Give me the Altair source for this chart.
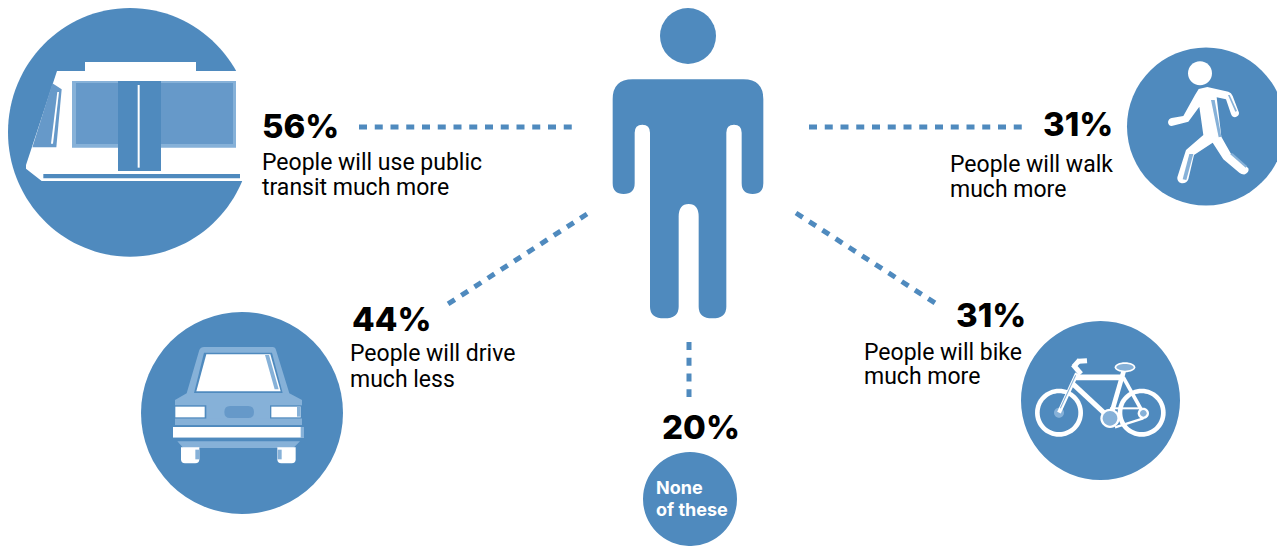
import re, math
import altair as alt
import pandas as pd

BLUE = "#4f8abe"; MID = "#6699c9"; LIGHT = "#86b1d8"; WHITE = "#ffffff"; INK = "#000000"

# ---------- values ----------
shares = ["56%", "31%", "44%", "31%", "20%"]
share_x = [262, 1043, 352, 956, 662]
share_y = [138, 136, 331, 327, 439]
captions = ["People will use public", "transit much more", "People will walk", "much more",
            "People will drive", "much less", "People will bike", "much more"]
caption_x = [262, 262, 950, 950, 350, 350, 864, 864]
caption_y = [170, 195, 172, 197, 361, 387, 360, 384]
none_text = ["None", "of these"]
none_x = [656, 656]
none_y = [494, 516]

disc_x = [688, 242, 1206, 1100.5, 690]
disc_y = [36, 413, 126.5, 400.5, 499]
disc_r = [28, 101, 79, 79.5, 47]

dot_x = [359, 809, 587, 796, 689]
dot_y = [127, 127, 214, 213, 342]
dot_x2 = [572, 1022, 448, 935, 689]
dot_y2 = [127, 127, 304, 303, 397]

# ---------- pictogram outlines (symbol shapes, relative to each icon's anchor) ----------
def glyph(path, ox, oy, ax, ay, s=3.0):
    i = [0]
    def rep(m):
        v = float(m.group(0))
        k = i[0]; i[0] += 1
        if k % 2 == 0:
            return f"{v / s + ox - ax:.2f}"
        return f"{v / s + oy - ay:.2f}"
    return re.sub(r"-?\d+(?:\.\d+)?", rep, path)

def ell(cx, cy, rx, ry=None):
    ry = rx if ry is None else ry
    k = 0.5523
    return (f"M {cx-rx} {cy} C {cx-rx} {cy-k*ry} {cx-k*rx} {cy-ry} {cx} {cy-ry} "
            f"C {cx+k*rx} {cy-ry} {cx+rx} {cy-k*ry} {cx+rx} {cy} "
            f"C {cx+rx} {cy+k*ry} {cx+k*rx} {cy+ry} {cx} {cy+ry} "
            f"C {cx-k*rx} {cy+ry} {cx-rx} {cy+k*ry} {cx-rx} {cy} Z")

def rect(x1, y1, x2, y2):
    return f"M {x1} {y1} L {x2} {y1} L {x2} {y2} L {x1} {y2} Z"

def bar(x1, y1, x2, y2, w):
    d = math.hypot(x2 - x1, y2 - y1)
    nx, ny = -(y2 - y1) / d * w / 2, (x2 - x1) / d * w / 2
    return (f"M {x1+nx:.2f} {y1+ny:.2f} L {x2+nx:.2f} {y2+ny:.2f} "
            f"L {x2-nx:.2f} {y2-ny:.2f} L {x1-nx:.2f} {y1-ny:.2f} Z")

rows = []
def add(path, col, ox, oy, ax, ay):
    rows.append({"ax": ax, "ay": ay, "d": glyph(path, ox, oy, ax, ay), "c": col})

# person body
P = (590, 0, 688, 200)
add("M 128 238 L 460 238 Q 520 238 520 298 L 520 550 Q 520 582 488 582 Q 455 582 455 550 "
    "L 455 398 Q 455 374 432 374 Q 409 374 409 398 L 409 920 Q 409 955 367 955 Q 326 955 326 920 "
    "L 326 650 Q 326 612 296 612 Q 266 612 266 650 L 266 920 Q 266 955 223 955 Q 180 955 180 920 "
    "L 180 398 Q 180 374 157 374 Q 134 374 134 398 L 134 550 Q 134 582 101 582 Q 68 582 68 550 "
    "L 68 298 Q 68 238 128 238 Z", BLUE, *P)

# tram
T = (0, 0, 130, 131)
add(ell(390, 397, 366, 373), BLUE, *T)
add("M 171 213 L 255 213 L 255 186 L 588 186 L 588 213 L 790 213 L 790 543 L 125 543 L 78 506 L 78 495 Z", WHITE, *T)
add("M 157 250 L 185 268 L 169 442 L 97 442 Z", MID, *T)
add("M 172 276 L 177 276 L 159 431 L 153 431 Z", WHITE, *T)
add(rect(216, 243, 708, 443), LIGHT, *T)
add(rect(228, 249, 699, 432), MID, *T)
add(rect(354, 243, 483, 513), BLUE, *T)
add(rect(413, 255, 419, 503), WHITE, *T)
add(rect(130, 522, 720, 535), BLUE, *T)

# car
C = (130, 300, 242, 413)
add("M 222 141 L 428 141 Q 436 141 438 150 L 478 280 L 516 300 L 516 375 L 135 375 L 135 300 L 170 280 "
    "L 208 150 Q 212 141 222 141 Z", LIGHT, *C)
add("M 222 158 L 426 158 L 458 279 L 192 279 Z", BLUE, *C)
add("M 229 163 L 421 163 L 452 274 L 199 274 Z", WHITE, *C)
add("M 405 165 L 417 165 L 446 268 L 434 268 Z", LIGHT, *C)
add(rect(132, 316, 229, 356), BLUE, *C)
add(rect(136, 320, 224, 352), WHITE, *C)
add(rect(420, 316, 516, 356), BLUE, *C)
add(rect(424, 320, 512, 352), WHITE, *C)
add(rect(501, 320, 512, 350), LIGHT, *C)
add("M 300 318 L 355 318 Q 372 318 372 336 Q 372 354 355 354 L 300 354 Q 283 354 283 336 Q 283 318 300 318 Z", MID, *C)
add(rect(135, 356, 516, 376), LIGHT, *C)
add(rect(129, 376, 522, 381), BLUE, *C)
add(rect(129, 381, 522, 413), WHITE, *C)
add(rect(512, 381, 522, 413), LIGHT, *C)
add(rect(129, 413, 522, 424), BLUE, *C)
add("M 142 424 L 510 424 L 490 444 L 160 444 Z", LIGHT, *C)
add("M 153 442 L 208 442 L 208 478 Q 208 490 196 490 L 165 490 Q 153 490 153 478 Z", WHITE, *C)
add(rect(196, 449, 207, 478), LIGHT, *C)
add("M 442 442 L 497 442 L 497 478 Q 497 490 485 490 L 454 490 Q 442 490 442 478 Z", WHITE, *C)
add(rect(443, 449, 455, 478), LIGHT, *C)

# walker
W = (1120, 40, 1206, 126.5)
add(ell(240, 100, 36), WHITE, *W)
add("M 236 147 L 262 141 L 325 155 Q 334 158 338 168 L 357 218 Q 358 228 345 232 Q 337 232 333 222 L 318 178 "
    "L 290 172 L 304 290 L 332 340 L 385 385 Q 389 395 375 403 Q 365 404 358 398 L 310 358 L 278 308 "
    "L 222 345 L 205 418 Q 200 431 185 430 Q 170 426 172 412 L 198 330 L 250 285 L 238 200 L 205 245 "
    "L 155 258 Q 145 258 144 246 Q 146 236 155 234 L 190 228 L 225 165 Z", WHITE, *W)
add("M 273 180 L 284 180 L 304 290 L 296 292 Z", LIGHT, *W)
add("M 324 165 L 329 165 L 351 213 L 346 215 Z", LIGHT, *W)
add("M 330 342 L 338 340 L 381 378 L 377 383 Z", LIGHT, *W)
add("M 208 342 L 220 342 L 199 420 L 188 418 Z", LIGHT, *W)

# bicycle
B = (1015, 320, 1100.5, 400.5)
for cx in (132, 380):
    add(ell(cx, 278, 72), WHITE, *B)
    add(ell(cx, 278, 58), BLUE, *B)
add(ell(132, 278, 15), LIGHT, *B)
add(bar(380, 265, 285, 265, 6), WHITE, *B)
add(bar(385, 295, 300, 322, 7), WHITE, *B)
add(bar(180, 172, 328, 172, 17), WHITE, *B)
add(bar(172, 190, 285, 295, 15), WHITE, *B)
add(bar(327, 150, 285, 295, 14), WHITE, *B)
add(bar(325, 172, 385, 280, 11), WHITE, *B)
add(bar(186, 160, 132, 278, 12), WHITE, *B)
add(bar(182, 166, 136, 265, 3), LIGHT, *B)
add(bar(216, 122, 190, 124, 15), WHITE, *B)
add(bar(194, 120, 176, 140, 15), WHITE, *B)
add(bar(174, 134, 198, 162, 15), WHITE, *B)
add(ell(330, 142, 31, 15), WHITE, *B)
add(ell(330, 142, 26, 10), LIGHT, *B)
add(ell(285, 295, 29), WHITE, *B)
add(ell(285, 295, 22), LIGHT, *B)
add(ell(385, 280, 17), WHITE, *B)
add(ell(385, 280, 10), LIGHT, *B)

# ---------- chart ----------
X = alt.Scale(domain=[8, 1277], range=[0, 1269], nice=False, zero=False)
Y = alt.Scale(domain=[8, 546], range=[0, 538], nice=False, zero=False)
xe = lambda f: alt.X(f"{f}:Q", scale=X, axis=None)
ye = lambda f: alt.Y(f"{f}:Q", scale=Y, axis=None)

discs = alt.Chart(pd.DataFrame({"x": disc_x, "y": disc_y,
                                "a": [4 * r * r for r in disc_r]})).mark_circle(
    color=BLUE, opacity=1).encode(x=xe("x"), y=ye("y"),
                                  size=alt.Size("a:Q", scale=None, legend=None))

shapes = alt.Chart(pd.DataFrame(rows)).mark_point(
    filled=True, opacity=1, size=4, strokeWidth=0).encode(
    x=xe("ax"), y=ye("ay"),
    shape=alt.Shape("d:N", scale=None, legend=None),
    fill=alt.Fill("c:N", scale=None, legend=None))

dots = alt.Chart(pd.DataFrame({"x": dot_x, "y": dot_y, "x2": dot_x2, "y2": dot_y2})).mark_rule(
    color=BLUE, strokeWidth=5, strokeDash=[8, 7.75]).encode(
    x=xe("x"), y=ye("y"), x2="x2:Q", y2="y2:Q")

big = alt.Chart(pd.DataFrame({"t": shares, "x": share_x, "y": share_y})).mark_text(
    align="left", baseline="alphabetic", font="Inter", fontSize=33, fontWeight=800, color=INK).encode(
    x=xe("x"), y=ye("y"), text="t:N")

small = alt.Chart(pd.DataFrame({"t": captions, "x": caption_x, "y": caption_y})).mark_text(
    align="left", baseline="alphabetic", font="Roboto", fontSize=23, fontWeight=400, color=INK).encode(
    x=xe("x"), y=ye("y"), text="t:N")

none = alt.Chart(pd.DataFrame({"t": none_text, "x": none_x, "y": none_y})).mark_text(
    align="left", baseline="alphabetic", font="Inter", fontSize=18, fontWeight=700, color=WHITE).encode(
    x=xe("x"), y=ye("y"), text="t:N")

chart = alt.layer(discs, shapes, dots, big, small, none).properties(
    width=1269, height=538, padding=0, autosize=alt.AutoSizeParams(type="none"),
    background="white").configure_view(stroke=None)

chart.save("out.html", embed_options={"renderer": "svg", "actions": False})
